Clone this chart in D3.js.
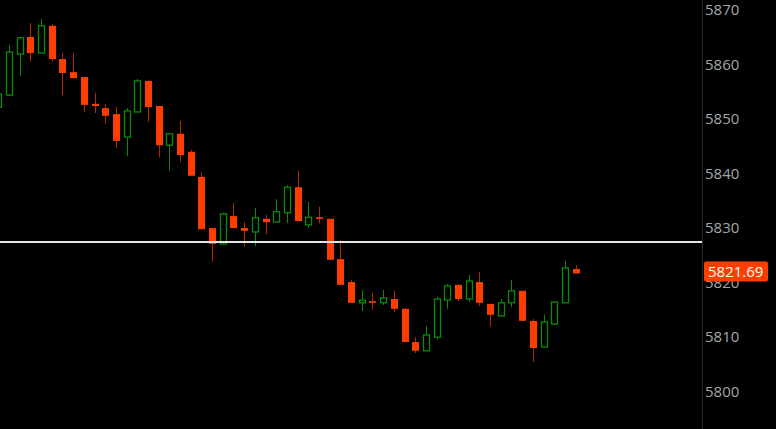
<!DOCTYPE html>
<html>
<head>
<meta charset="utf-8">
<script src="https://cdn.jsdelivr.net/npm/d3@7"></script>
<style>
  html, body { margin: 0; padding: 0; background: #000; }
  svg { display: block; }
</style>
</head>
<body>
<svg id="chart" width="776" height="429"></svg>
<script>
// ---- data ----
const opens  = [5852.2,5854.4,5861.9,5865.05,5862.1,5867.1,5861.0,5858.6,5857.7,5852.8,5852.0,5850.9,5846.7,5851.3,5857.0,5852.4,5845.2,5847.3,5844.0,5839.4,5830.0,5827.1,5832.2,5830.0,5829.3,5831.7,5831.1,5832.8,5837.5,5830.6,5832.0,5831.7,5824.3,5820.1,5816.3,5816.6,5816.3,5817.0,5815.2,5809.1,5807.5,5810.0,5816.8,5819.6,5817.0,5820.1,5816.1,5813.9,5816.3,5818.5,5812.97,5808.2,5812.4,5816.3,5822.5];
const highs  = [5855.0,5863.6,5865.05,5867.6,5868.35,5867.4,5862.1,5862.1,5857.7,5854.8,5852.8,5852.2,5852.0,5857.35,5857.0,5852.4,5847.4,5849.65,5844.3,5840.3,5830.0,5832.8,5834.6,5831.1,5833.7,5832.4,5835.3,5837.9,5840.5,5834.8,5833.9,5831.7,5827.8,5820.5,5818.65,5818.1,5818.65,5818.5,5815.2,5810.0,5812.05,5817.4,5819.75,5819.6,5821.4,5821.96,5816.1,5817.0,5820.5,5818.5,5813.3,5814.1,5816.45,5824.0,5823.2];
const lows   = [5852.0,5854.3,5857.9,5860.5,5862.1,5860.5,5854.4,5857.5,5851.3,5851.1,5849.1,5844.7,5843.2,5851.3,5849.5,5843.0,5840.5,5842.1,5839.6,5829.8,5823.8,5827.0,5830.0,5826.5,5826.7,5828.9,5831.1,5830.9,5831.3,5830.0,5830.9,5824.2,5819.6,5816.3,5814.8,5815.0,5815.9,5814.6,5809.1,5807.1,5807.5,5809.5,5815.2,5816.6,5816.45,5815.7,5811.9,5813.9,5815.5,5813.0,5805.45,5808.2,5812.2,5816.3,5821.69];
const closes = [5854.6,5862.3,5864.9,5862.1,5867.1,5861.0,5858.45,5857.5,5852.6,5852.4,5850.6,5846.0,5851.5,5857.0,5852.2,5845.2,5847.3,5843.4,5839.6,5829.8,5827.1,5832.6,5830.0,5829.5,5831.9,5831.1,5833.0,5837.5,5831.3,5832.0,5831.7,5824.2,5819.6,5816.3,5816.8,5816.3,5817.2,5815.2,5809.1,5807.5,5810.4,5817.0,5819.4,5817.0,5820.3,5816.3,5814.1,5816.3,5818.5,5813.0,5808.0,5812.8,5816.45,5822.7,5821.69];
const yTicks = [5800, 5810, 5820, 5830, 5840, 5850, 5860, 5870];
const refLevel = 5827.45;
const lastPrice = 5821.69;
const lastPriceLabel = "5821.69";

// ---- layout ----
const W = 776, H = 429;
const axisX = 702;
const svg = d3.select("#chart");
svg.append("rect").attr("width", W).attr("height", H).attr("fill", "#000");

const idx = d3.range(opens.length);
const x = d3.scaleLinear().domain([0, opens.length - 1]).range([-1.7, 575.6]);
const y = d3.scaleLinear().domain([5800, 5870]).range([391.7, 10]);

const UP = "#0a8a0a", DOWN = "#ff3d00", DOWNWICK = "#b02a00";
const bw = 7;

const g = svg.append("g");
const candles = g.selectAll("g.c").data(idx).join("g").attr("class", "c");

candles.append("line")
  .attr("x1", i => Math.round(x(i)) + 0.5)
  .attr("x2", i => Math.round(x(i)) + 0.5)
  .attr("y1", i => y(highs[i]))
  .attr("y2", i => y(lows[i]))
  .attr("stroke", i => closes[i] >= opens[i] ? UP : DOWNWICK)
  .attr("stroke-width", 1);

candles.append("rect")
  .attr("x", i => Math.round(x(i)) - 3 + (closes[i] >= opens[i] ? 0.5 : 0))
  .attr("width", i => closes[i] >= opens[i] ? bw - 1 : bw)
  .attr("y", i => y(Math.max(opens[i], closes[i])))
  .attr("height", i => Math.max(1.5, Math.abs(y(opens[i]) - y(closes[i]))))
  .attr("fill", i => closes[i] >= opens[i] ? "#000" : DOWN)
  .attr("stroke", i => closes[i] >= opens[i] ? UP : "none")
  .attr("stroke-width", 1.3);

// reference horizontal line
svg.append("line")
  .attr("x1", 0).attr("x2", axisX)
  .attr("y1", y(refLevel)).attr("y2", y(refLevel))
  .attr("stroke", "#e6e6e6").attr("stroke-width", 2);

// axis separator
svg.append("line")
  .attr("x1", axisX + 0.5).attr("x2", axisX + 0.5)
  .attr("y1", 0).attr("y2", H)
  .attr("stroke", "#2b2b2b").attr("stroke-width", 1);

// right axis
const axis = d3.axisRight(y).tickValues(yTicks).tickSize(0).tickPadding(3).tickFormat(d3.format("d"));
const ag = svg.append("g").attr("transform", `translate(${axisX},0)`).call(axis);
ag.select(".domain").remove();
ag.selectAll("text")
  .attr("fill", "#a6a6a6")
  .attr("font-family", "'Open Sans', sans-serif")
  .attr("font-size", 15);

// last price label
const ly = y(lastPrice);
svg.append("rect")
  .attr("x", axisX + 2).attr("y", ly - 12)
  .attr("width", 64).attr("height", 20)
  .attr("rx", 2).attr("fill", DOWN);
svg.append("text")
  .attr("x", axisX + 6).attr("y", ly - 2)
  .attr("dy", "0.35em")
  .attr("fill", "#fff")
  .attr("font-family", "'Open Sans', sans-serif")
  .attr("font-size", 15)
  .text(lastPriceLabel);
</script>
</body>
</html>
